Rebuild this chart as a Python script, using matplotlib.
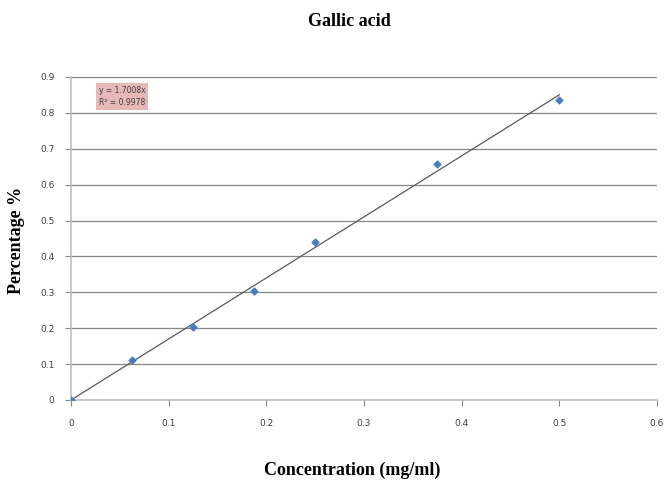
import matplotlib.pyplot as plt
import numpy as np

# Datos
concentracion = [0, 0.0625, 0.125, 0.1875, 0.25, 0.375, 0.5]
porcentaje = [0, 0.111, 0.202, 0.304, 0.44, 0.657, 0.836]
pendiente = 1.7008
r2 = 0.9978

fig = plt.figure(figsize=(6.65, 4.8), dpi=100)
ax = fig.add_axes([0.1068, 0.1667, 0.8812, 0.6729])

# Linea de tendencia
xt = np.array([0, 0.5])
ax.plot(xt, pendiente * xt, color='#595959', lw=0.9, zorder=2)

# Puntos
ax.scatter(concentracion, porcentaje, marker='D', s=12, color='#4a7ebb', zorder=3)

ax.set_xlim(0, 0.6)
ax.set_ylim(0, 0.9)
ax.set_xticks(np.arange(0, 0.61, 0.1))
ax.set_yticks(np.arange(0, 0.91, 0.1))
ax.set_xticklabels(['0', '0.1', '0.2', '0.3', '0.4', '0.5', '0.6'])
ax.set_yticklabels(['0', '0.1', '0.2', '0.3', '0.4', '0.5', '0.6', '0.7', '0.8', '0.9'])
ax.tick_params(labelsize=6.5, colors='#404040', length=4, width=0.8)
ax.tick_params(axis='both', color='#868686')
ax.tick_params(axis='x', pad=10)
ax.tick_params(axis='y', pad=8)
ax.yaxis.grid(True, color='#868686', lw=0.9)
ax.set_axisbelow(True)
for s in ['top', 'right']:
    ax.spines[s].set_visible(False)
for s in ['left', 'bottom']:
    ax.spines[s].set_color('#bfbfbf')
    ax.spines[s].set_linewidth(1.2)

# Ecuacion
ax.text(0.047, 0.972, 'y = 1.7008x\nR$^2$ = 0.9978'.replace('$^2$', '²'), transform=ax.transAxes,
        fontsize=5.5, color='#404040', va='top', ha='left', linespacing=1.4,
        bbox=dict(boxstyle='square,pad=0.35', fc='#e6b9b8', ec='none'))

fig.text(0.525, 0.956, 'Gallic acid', ha='center', va='center',
         family='Liberation Serif', fontsize=13, fontweight='bold')
fig.text(0.53, 0.02, 'Concentration (mg/ml)', ha='center', va='center',
         family='Liberation Serif', fontsize=13, fontweight='bold')
fig.text(0.025, 0.50, 'Percentage %', ha='center', va='center', rotation=90,
         family='Liberation Serif', fontsize=13, fontweight='bold')

fig.savefig('out.png', dpi=100)
